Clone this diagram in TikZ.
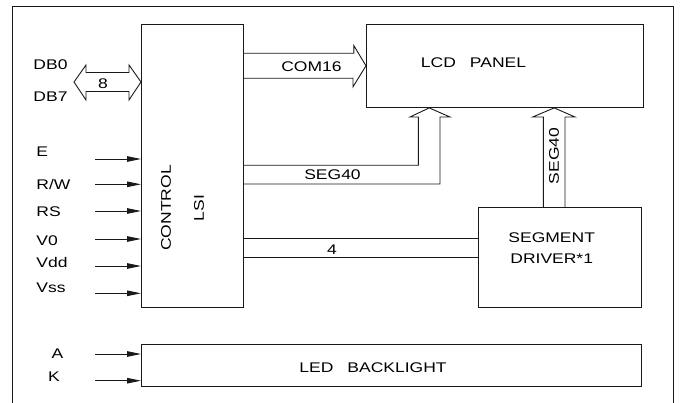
\documentclass[tikz,border=0pt]{standalone}
\usepackage{fontspec}
\setmainfont{Liberation Sans}[FakeStretch=1.25]
\usetikzlibrary{arrows.meta,positioning,calc}
\tikzset{
  block/.style = {draw=black!90, rectangle, inner sep=0pt, anchor=north west},
  pinarrow/.style = {-{Triangle[length=14pt,width=5.5pt]}, draw=black!90, line width=0.9pt},
  bus/.style = {draw=black!90, line width=0.9pt, line join=miter},
  pinlabel/.style = {anchor=west, inner sep=0pt},
  txt/.style = {inner sep=0pt, font=\fontsize{14}{17}\selectfont}
}

\begin{document}
\begin{tikzpicture}[x=1pt, y=-1pt, line width=0.9pt, font=\fontsize{14}{17}\selectfont]
  \useasboundingbox (0,0) rectangle (682,403);
  % outer frame
  \draw[black!90] (12,403) -- (12,6) -- (673,6) -- (673,403);

  % blocks
  \node[block, minimum width=102pt, minimum height=282.7pt] (ctrl) at (141,24) {};
  \node[block, minimum width=276.7pt, minimum height=83pt] (lcd) at (366,24) {};
  \node[block, minimum width=163pt, minimum height=99.4pt] (seg) at (477.7,207.3) {};
  \node[block, minimum width=499.7pt, minimum height=41.4pt] (led) at (141,344.3) {};

  \node[txt, rotate=90, align=center, font=\fontsize{14}{33}\selectfont] (ctrltext) at (182.5,208) {CONTROL\\LSI};
  \node[txt] (lcdtext) at (473.5,63) {LCD\quad PANEL};
  \node[txt, align=center, font=\fontsize{14}{21}\selectfont] (segtext) at (551.7,248.5) {SEGMENT\\DRIVER*1};
  \node[txt] (ledtext) at (373,368) {LED\quad BACKLIGHT};

  % data bus
  \coordinate (dbtip) at (74,82);
  \draw[bus] (dbtip) -- ++(12,-17) -- ++(0,7.5) -- ++(43,0) -- ++(0,-7.5) -- (ctrl.west |- dbtip)
    -- ++(-12,18) -- ++(0,-8.5) -- ++(-43,0) -- ++(0,8.5) -- cycle;
  \node[txt] (db0) at (50.5,64.5) {DB0};
  \node[txt] (db7) at (50.5,96.7) {DB7};
  \node[txt] (dbw) at (103,84) {8};

  % COM16
  \draw[bus] (ctrl.east |- 0,53.3) -- ++(110,0) -- ++(0,-7.6) -- (lcd.west |- 0,65.8)
    -- ++(-13,21) -- ++(0,-8.5) -- (ctrl.east |- 0,78.3);
  \node[txt] (com) at (311.5,67) {COM16};

  % SEG40 from control
  \draw[bus] (ctrl.east |- 0,165.3) -| (418.3,117) -- ++(-8.3,0) -- (429.2,0 |- lcd.south)
    -- (450,117) -- ++(-10,0) |- (ctrl.east |- 0,184);
  \node[txt] (segc) at (332.5,174.5) {SEG40};

  % SEG40 from segment driver
  \draw[bus] (543.3,0 |- seg.north) -- (543.3,117) -- ++(-10.6,0) -- (554.2,0 |- lcd.south)
    -- (575,117) -- ++(-10,0) -- (565,0 |- seg.north);
  \node[txt, rotate=90] (segd) at (554,156) {SEG40};

  % 4 lines to segment driver
  \draw[black!90] (ctrl.east |- 0,238.3) -- (seg.west |- 0,238.3);
  \draw[black!90] (ctrl.east |- 0,257.7) -- (seg.west |- 0,257.7);
  \node[txt] (four) at (332,249.5) {4};

  % control inputs
  \foreach \lbl/\ya/\yl [count=\i] in {E/159/151.7, {R/W}/184.3/184, RS/211/212, V0/239/241, Vdd/266/262, Vss/293.3/288} {
    \coordinate (in\i) at (95,\ya);
    \draw[pinarrow] (in\i) -- (in\i -| ctrl.west);
    \node[pinlabel] (inl\i) at (36,\yl) {\lbl};
  }

  % backlight inputs
  \coordinate (inA) at (95,354);
  \coordinate (inK) at (95,380.7);
  \draw[pinarrow] (inA) -- (inA -| led.west);
  \draw[pinarrow] (inK) -- (inK -| led.west);
  \node[txt] (la) at (57.5,353.3) {A};
  \node[txt] (lk) at (54,376.7) {K};
\end{tikzpicture}
\end{document}
